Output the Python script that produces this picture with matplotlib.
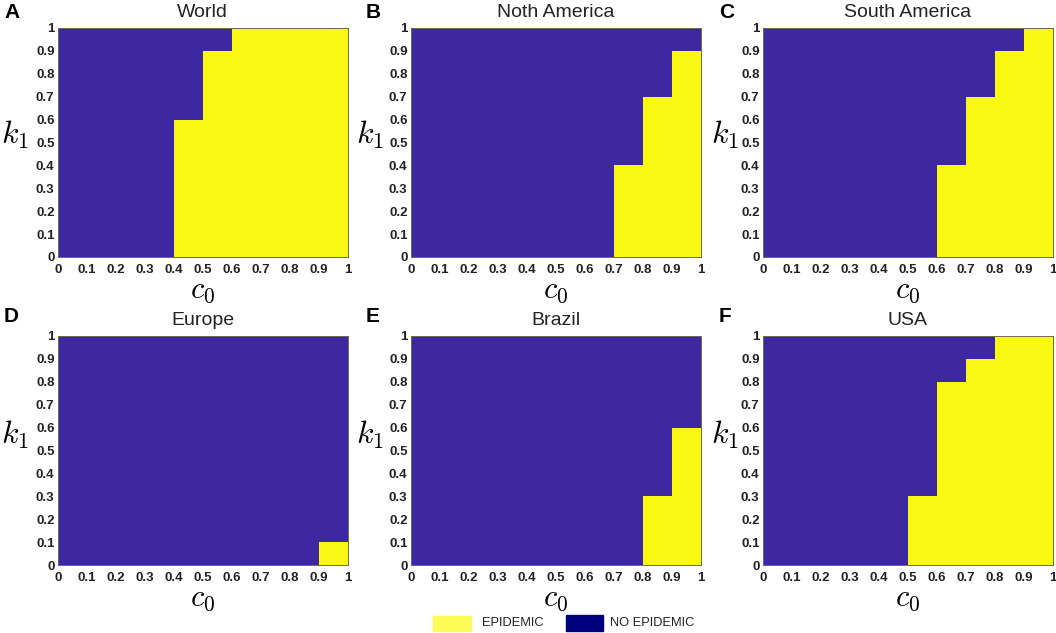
#!/usr/bin/env python3
"""
Epidemic / no epidemic regions over the (c0, k1) plane
"""

import matplotlib
matplotlib.use('Agg')
import matplotlib.pyplot as plt
from matplotlib.colors import ListedColormap
from matplotlib.patches import Rectangle
import numpy as np

edges = [0, 0.1, 0.2, 0.3, 0.4, 0.5, 0.6, 0.7, 0.8, 0.9, 1]
tick_labels = ['0', '0.1', '0.2', '0.3', '0.4', '0.5', '0.6', '0.7', '0.8', '0.9', '1']

panel_letters = ['A', 'B', 'C', 'D', 'E', 'F']
titles = ['World', 'Noth America', 'South America', 'Europe', 'Brazil', 'USA']

# height of the epidemic region in each c0 column
world = [0, 0, 0, 0, 0.6, 0.9, 1, 1, 1, 1]
north_america = [0, 0, 0, 0, 0, 0, 0, 0.4, 0.7, 0.9]
south_america = [0, 0, 0, 0, 0, 0, 0.4, 0.7, 0.9, 1]
europe = [0, 0, 0, 0, 0, 0, 0, 0, 0, 0.1]
brazil = [0, 0, 0, 0, 0, 0, 0, 0, 0.3, 0.6]
usa = [0, 0, 0, 0, 0, 0.3, 0.8, 0.9, 1, 1]
series = [world, north_america, south_america, europe, brazil, usa]

legend_labels = ['EPIDEMIC', 'NO EPIDEMIC']

BLUE = '#3d28a2'
YELLOW = '#f8f812'
W, H = 1056, 633

plt.rcParams['font.family'] = ['Liberation Sans', 'DejaVu Sans']
plt.rcParams['mathtext.fontset'] = 'cm'

lefts = [58, 411, 763]
tops = [28, 336]
aw, ah = 289.5, 229
letter_x = [4, 366, 719]
letter_y = [13, 317]
k_x = [15.5, 370.5, 725.5]
k_y = [135, 435]


def region_grid(heights):
    """Turn column heights into a 10x10 grid for pcolormesh"""
    centers = (np.array(edges[:-1]) + np.array(edges[1:])) / 2
    return np.array([[1 if yc < h else 0 for h in heights] for yc in centers])


fig = plt.figure(figsize=(W / 100, H / 100), dpi=100)
cmap = ListedColormap([BLUE, YELLOW])

for i, heights in enumerate(series):
    row, col = divmod(i, 3)
    ax = fig.add_axes([lefts[col] / W, 1 - (tops[row] + ah) / H, aw / W, ah / H])
    ax.pcolormesh(edges, edges, region_grid(heights), cmap=cmap, vmin=0, vmax=1)
    ax.set_xlim(0, 1)
    ax.set_ylim(0, 1)
    ax.set_xticks(edges)
    ax.set_yticks(edges)
    ax.set_xticklabels(tick_labels, fontweight='bold', fontsize=9.5, color='#222222')
    ax.set_yticklabels(tick_labels, fontweight='bold', fontsize=9.5, color='#222222',
                       va='center_baseline')
    ax.tick_params(axis='y', length=0, pad=2.5)
    ax.tick_params(axis='x', length=0, pad=5)
    for s in ax.spines.values():
        s.set_linewidth(0.7)
        s.set_color('#6e6a50')
    ax.set_title(titles[i], fontsize=14, pad=8, color='#222222')
    ax.set_xlabel(r'$c_0$', fontsize=22, labelpad=-0.5)
    ax.set_ylabel(r'$k_1$', fontsize=23, rotation=0, va='center', ha='center')
    ax.yaxis.set_label_coords((k_x[col] - lefts[col]) / aw, 1 - (k_y[row] - tops[row]) / ah)
    fig.text(letter_x[col] / W, 1 - letter_y[row] / H, panel_letters[i],
             fontsize=15, fontweight='bold', va='center', ha='left')

# shared legend under the bottom row
fig.add_artist(Rectangle((433 / W, 1 - 631 / H), 38 / W, 15 / H, color='#fcfc55',
                         transform=fig.transFigure))
fig.text(482 / W, 1 - 623 / H, legend_labels[0], fontsize=9.3, va='center', color='#222222')
fig.add_artist(Rectangle((566 / W, 1 - 631 / H), 37 / W, 16 / H, color='#00007f',
                         transform=fig.transFigure))
fig.text(610 / W, 1 - 623 / H, legend_labels[1], fontsize=9.3, va='center', color='#222222')

fig.savefig('out.png', dpi=100)
